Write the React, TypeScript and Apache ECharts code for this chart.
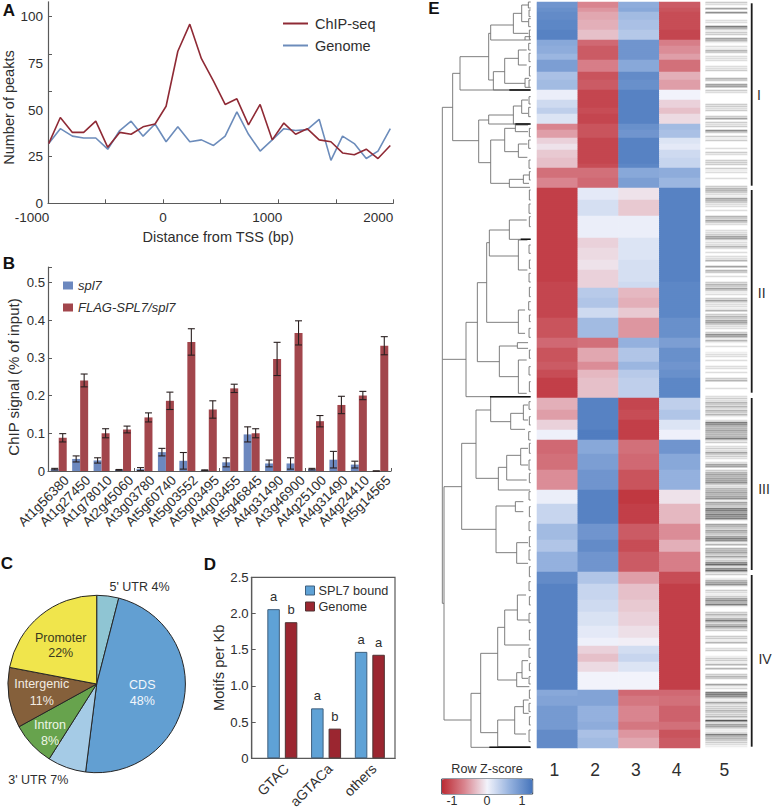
import React, { useEffect, useRef } from "react";
import * as echarts from "echarts";

const FONT = "Liberation Sans";
const INK = "#2e2e2e";
const AXIS = "#5a5a5a";

// Panel A
const tssPositions = [-994, -893, -788, -690, -585, -481, -377, -278, -174, -70, 26, 128, 232, 333, 438, 539, 641, 742, 843, 948, 1049, 1151, 1252, 1356, 1458, 1559, 1661, 1765, 1867, 1974];
const chipSeq = [32, 46, 38, 38, 44, 30, 38, 37, 41, 42.5, 52, 81.5, 96, 77.5, 65.5, 53, 56, 42, 53, 34, 43, 37, 40, 34, 33, 27, 26, 29, 24, 31];
const genomeA = [32, 40, 36, 35, 35, 29, 39, 44, 36, 42.5, 33, 41, 33, 34, 31, 36, 49, 37, 28, 34, 40, 39, 39.5, 45, 23, 36, 32, 24, 28, 40];

// Panel B
const geneNames = ["At1g56380", "At1g27450", "At1g78010", "At2g45060", "At3g03780", "At5g60740", "At5g03552", "At5g03495", "At4g03455", "At5g46845", "At4g31490", "At3g46900", "At4g25100", "At4g31490", "At4g24410", "At5g14565"];
const spl7Values = [0.005, 0.032, 0.028, 0.003, 0.005, 0.05, 0.027, 0.002, 0.023, 0.097, 0.02, 0.02, 0.005, 0.03, 0.017, 0];
const flagValues = [0.088, 0.24, 0.1, 0.11, 0.142, 0.186, 0.342, 0.163, 0.219, 0.1, 0.297, 0.366, 0.132, 0.175, 0.2, 0.332];
const spl7Errors = [0.002, 0.008, 0.007, 0.001, 0.004, 0.01, 0.022, 0.001, 0.012, 0.02, 0.009, 0.015, 0.002, 0.022, 0.009, 0];
const flagErrors = [0.011, 0.017, 0.012, 0.009, 0.012, 0.023, 0.035, 0.023, 0.011, 0.012, 0.044, 0.032, 0.015, 0.023, 0.011, 0.024];

// Panel C
const pieNames = ["5' UTR", "CDS", "3' UTR", "Intron", "Intergenic", "Promoter"];
const pieValues = [4, 48, 7, 8, 11, 22];
const pieColors = ["#8fc5d3", "#629fd2", "#a5cbe6", "#67a34d", "#85603b", "#f0e54c"];
const pieLabelColors = [INK, "#f2f6fb", INK, "#eef6e6", "#f3ece2", "#3a3a20"];
const pieLabelSpots = [[139.5, 587], [142.3, 692.7], [38.3, 780], [50, 732.7], [41.7, 692.7], [60.7, 645]];
const pieLineHeights = [16, 16, 16, 16, 17.5, 15];

// Panel D
const motifNames = ["GTAC", "aGTACa", "others"];
const motifPositions = [0.7, 1.7, 2.7];
const boundValues = [2.06, 0.69, 1.47];
const genomeMotifs = [1.88, 0.41, 1.43];
const boundLetters = ["a", "a", "a"];
const genomeLetters = ["b", "b", "a"];

// Panel E heat map: [row count, column 1, column 2, column 3, column 4]
const heatRuns = [
  [3, 0.95, -0.65, 0.7, -0.95], [2, 1.0, -0.55, 0.75, -1.0], [4, 1.05, -0.45, 0.55, -1.05], [5, 1.1, -0.4, 0.5, -1.05], [5, 1.15, -0.3, 0.42, -1.1],
  [3, 0.75, -0.85, 0.95, -0.7], [4, 0.7, -0.95, 0.95, -0.6], [3, 0.6, -0.95, 0.95, -0.5], [6, 0.85, -0.7, 0.75, -0.8], [4, 0.5, -1.0, 1.05, -0.4], [5, 0.55, -0.95, 1.0, -0.5],
  [5, 0.05, -1.1, 1.15, 0.0], [4, 0.25, -1.1, 1.15, -0.2], [3, 0.35, -1.05, 1.15, -0.3], [5, 0.15, -1.1, 1.15, -0.15],
  [3, -0.65, -1.0, 1.0, 0.55], [4, -0.5, -1.0, 0.95, 0.5], [3, -0.2, -1.1, 1.15, 0.15], [3, -0.1, -1.1, 1.15, 0.1], [4, -0.25, -1.1, 1.15, 0.25], [3, -0.3, -1.1, 1.15, 0.3], [2, -0.3, -1.05, 1.1, 0.3],
  [5, -0.8, -0.8, 0.75, 0.7], [5, -0.65, -0.85, 0.85, 0.6],
  [6, -1.15, 0.1, -0.1, 1.15], [8, -1.15, 0.2, -0.25, 1.15], [11, -1.15, 0.05, 0.05, 1.15], [5, -1.15, -0.2, 0.15, 1.15], [6, -1.15, -0.15, 0.15, 1.15], [5, -1.15, -0.1, 0.2, 1.15],
  [6, -1.15, -0.2, 0.2, 1.15], [3, -1.1, -0.2, 0.25, 1.1], [5, -1.1, 0.4, -0.35, 1.1], [5, -1.1, 0.45, -0.4, 1.1], [5, -1.1, 0.25, -0.25, 1.1], [10, -1.0, 0.55, -0.55, 1.0],
  [5, -0.85, -0.8, 0.65, 0.85], [7, -1.0, -0.45, 0.45, 1.0], [4, -0.95, -0.6, 0.6, 0.95], [4, -1.05, -0.35, 0.4, 1.0], [10, -1.15, -0.3, 0.35, 1.1],
  [6, -0.4, 1.15, -1.1, 0.35], [5, -0.5, 1.15, -1.05, 0.45], [5, -0.2, 1.15, -1.15, 0.15], [5, 0.03, 1.2, -1.15, 0.03], [7, -0.85, 0.75, -0.8, 0.95], [8, -0.8, 0.85, -0.85, 0.75], [10, -0.6, 0.95, -1.0, 0.65], [7, 0.05, 1.15, -1.2, -0.1], [10, 0.3, 1.15, -1.15, -0.35], [8, 0.55, 0.95, -0.95, -0.6],
  [6, 0.45, 1.05, -1.05, -0.4], [10, 0.65, 0.95, -0.95, -0.7],
  [6, 1.05, 0.45, -0.5, -1.05], [8, 1.15, 0.3, -0.3, -1.15], [6, 1.15, 0.25, -0.25, -1.15], [7, 1.15, 0.17, -0.2, -1.15], [6, 1.15, 0.1, -0.12, -1.15], [4, 1.15, 0.03, -0.03, -1.15], [4, 1.15, -0.2, 0.22, -1.15], [4, 1.15, -0.3, 0.3, -1.15], [5, 1.15, -0.15, 0.15, -1.15], [9, 1.15, 0.0, 0.0, -1.15],
  [3, 0.75, 0.8, -0.85, -0.85], [5, 0.8, 0.8, -0.75, -0.8], [8, 0.9, 0.65, -0.65, -0.9], [4, 0.9, 0.7, -0.75, -0.8], [4, 1.05, 0.5, -0.55, -1.0], [5, 1.05, 0.55, -0.45, -0.95],
];
const heatColumns = ["1", "2", "3", "4"];
const stripeColumn = ["5"];

// Panel E column 5: grey level of each row
const stripeLevels =
  "0320506000" + "2207413305" + "4102143022" + "2002230004" + "3055032000" + "0033230035" + "0323063031" + "3000203200" + "3330312002" + "00034" +
  "4321543220" + "2004353200" + "2235512242" + "0202240050" + "4302003435" + "3120352221" + "4034355322" + "0365141020" + "0122020022" + "02003" +
  "4000200023" + "2434243410" + "2764454447" + "2302325332" + "0255034545" + "5632445456" + "1543775767" + "1054354357" + "6140445352" + "36826" +
  "8230145610" + "3213564710" + "0342473463" + "3003314002" + "3001331404" + "0034300512" + "0776215233" + "4334192552" + "127443321";

// Panel E dendrogram: [distance, upper position, lower position, upper child distance, lower child distance, emphasis]
const treeNodes = [
  [265, 1078, 1810, 265, 260, 0], [265, 322, 1078, 234, 194, 0], [234, 220, 422, 212, 156, 0], [212, 170, 270, 126, 2, 0], [126, 100, 240, 120, 112, 0], [120, 75, 120, 52, 17, 0], [52, 40, 100, 27, 7, 0], [27, 15, 65, 7, 7, 0], [17, 110, 120, 0, 0, 0], [112, 215, 270, 78, 2, 0], [78, 175, 250, 37, 17, 0], [37, 150, 195, 12, 12, 0], [17, 235, 262, 5, 5, 0],
  [156, 360, 488, 126, 120, 0], [126, 345, 372, 52, 2, 0], [52, 318, 372, 27, 5, 0], [27, 300, 340, 8, 8, 0], [120, 420, 550, 78, 64, 0], [78, 385, 455, 46, 37, 0], [46, 375, 395, 8, 8, 0], [37, 432, 472, 10, 10, 0], [64, 538, 562, 22, 2, 0], [22, 525, 550, 5, 5, 0],
  [194, 967, 1190, 160, 2, 0], [160, 848, 1085, 132, 94, 0], [132, 728, 967, 124, 37, 0], [124, 690, 768, 64, 37, 0], [64, 660, 718, 12, 2, 0], [37, 720, 810, 10, 10, 0], [37, 930, 1000, 17, 17, 0], [94, 1038, 1130, 40, 37, 0], [40, 1028, 1045, 8, 8, 0], [37, 1080, 1180, 12, 12, 0],
  [260, 1460, 2160, 207, 179, 0], [207, 1330, 1588, 164, 104, 0], [164, 1230, 1435, 120, 97, 0], [120, 1190, 1265, 2, 60, 0], [60, 1240, 1288, 22, 17, 0], [22, 1215, 1260, 8, 8, 0], [97, 1402, 1470, 72, 2, 0], [72, 1366, 1440, 30, 12, 0], [30, 1345, 1395, 8, 8, 0], [104, 1518, 1658, 46, 42, 0], [46, 1505, 1535, 22, 22, 0], [42, 1628, 1690, 8, 8, 0],
  [179, 2080, 2242, 150, 2, 0], [150, 1960, 2198, 99, 99, 0], [99, 1882, 2040, 78, 42, 0], [78, 1830, 1935, 40, 4, 0], [40, 1785, 1860, 14, 6, 0], [42, 2018, 2060, 26, 4, 0], [26, 1982, 2035, 8, 8, 0], [99, 2160, 2240, 48, 2, 0], [48, 2120, 2202, 22, 14, 0], [22, 2100, 2140, 6, 6, 0],
  [64, 270, 270, 0, 0, 1], [46, 372, 372, 0, 0, 1], [30, 718, 718, 0, 0, 1], [122, 1190, 1190, 0, 0, 1], [124, 2242, 2242, 0, 0, 1],
];
const treeTwigs = [
  [7, 6, 24], [5, 30, 50], [6, 56, 80], [4, 90, 118], [6, 130, 150], [5, 160, 185], [4, 200, 228], [5, 240, 262], [5, 290, 312], [6, 322, 350], [4, 385, 410], [6, 420, 445], [5, 480, 505], [4, 515, 540], [4, 570, 600], [5, 612, 640], [4, 650, 680], [5, 735, 760], [4, 780, 805], [5, 820, 846], [4, 862, 890], [6, 905, 930], [4, 945, 965], [5, 985, 1012], [4, 1050, 1075], [5, 1100, 1125], [4, 1145, 1175],
  [5, 1205, 1228], [4, 1250, 1275], [6, 1295, 1320], [4, 1330, 1360], [5, 1380, 1410], [4, 1420, 1448], [5, 1475, 1500], [4, 1520, 1550], [5, 1565, 1592], [4, 1610, 1640], [5, 1650, 1680], [4, 1700, 1730], [5, 1745, 1772], [4, 1790, 1815], [5, 1840, 1868], [4, 1890, 1920], [5, 1945, 1972], [4, 1990, 2012], [5, 2030, 2052], [4, 2070, 2095], [5, 2110, 2135], [4, 2150, 2175], [5, 2190, 2225],
];

// Colour scale
const zTicks = ["-1", "0", "1"];

const PIE_OUTER = new Set([0, 2]);

function errorBarRenderer(offset: number) {
  return (_p: any, api: any) => {
    const i = api.value(0), v = api.value(1), e = api.value(2);
    const c = api.coord([i, v]);
    const x = c[0] + offset;
    const top = api.coord([i, v + e])[1];
    const bot = api.coord([i, Math.max(0, v - e)])[1];
    const st = { stroke: "#2a2020", lineWidth: 1.1 };
    return {
      type: "group",
      children: [
        { type: "line", shape: { x1: x, y1: top, x2: x, y2: bot }, style: st },
        { type: "line", shape: { x1: x - 3.5, y1: top, x2: x + 3.5, y2: top }, style: st },
        { type: "line", shape: { x1: x - 3.5, y1: bot, x2: x + 3.5, y2: bot }, style: st },
      ],
    };
  };
}

function treeRenderer(_p: any, api: any) {
  const d = api.value(0), y1 = api.value(1), y2 = api.value(2), d1 = api.value(3), d2 = api.value(4), strong = api.value(5);
  const pts = [api.coord([d1, y1]), api.coord([d, y1]), api.coord([d, y2]), api.coord([d2, y2])];
  return {
    type: "polyline",
    shape: { points: pts },
    style: { fill: null, stroke: strong ? "#111" : "#707070", lineWidth: strong ? 1.5 : 0.9 },
  };
}

// slanted axis labels, anchored at their last letter below the axis position
function slantedLabels(names: string[], fontSize: number, dx: number, dy: number) {
  return (p: any, api: any) => {
    const c = api.coord([api.value(0), 0]);
    return {
      type: "text", x: c[0] + dx, y: c[1] + dy, rotation: Math.PI / 4,
      style: { text: names[p.dataIndex], fontSize, fontFamily: FONT, fill: INK, textAlign: "right", textVerticalAlign: "middle" },
    };
  };
}

function txt(x: number, y: number, text: string, fontSize: number, extra: any = {}) {
  return {
    type: "text", x, y,
    style: { text, fontSize, fontFamily: FONT, fill: INK, textAlign: "center", textVerticalAlign: "middle", ...extra },
  };
}
function vline(x: number, y1: number, y2: number) {
  return { type: "line", shape: { x1: x, y1, x2: x, y2 }, style: { stroke: "#1c1c1c", lineWidth: 1.8 } };
}

export default function App() {
  const ref = useRef<HTMLDivElement>(null);
  useEffect(() => {
    const chart = echarts.init(ref.current!, null, { renderer: "svg" });
    const axisLine = { show: true, onZero: false, lineStyle: { color: AXIS, width: 1.2 } };
    const tickInside = { show: true, inside: true, length: 4, lineStyle: { color: AXIS, width: 1 } };
    const heatData: number[][] = [];
    let row = 0;
    heatRuns.forEach((run) => {
      for (let k = 0; k < run[0]; k++) {
        for (let c = 0; c < 4; c++) heatData.push([c, row, run[c + 1]]);
        row++;
      }
    });
    const heatRows = Array.from({ length: row }, (_, i) => String(i));
    // each grey level fills one pixel row fully and fades on the next, as the stripes are thin
    const stripeData: number[][] = [];
    stripeLevels.split("").forEach((s, i) => {
      const lvl = Number(s);
      stripeData.push([0, 2 * i, lvl]);
      stripeData.push([0, 2 * i + 1, lvl >= 4 ? lvl * 0.6 : lvl * 0.25]);
    });
    const stripeRows = stripeData.map((_, i) => String(i));

    const series: any[] = [
      { name: "ChIP-seq", type: "line", xAxisIndex: 0, yAxisIndex: 0, showSymbol: false, data: tssPositions.map((x, i) => [x, chipSeq[i]]), lineStyle: { color: "#8f2a35", width: 1.6 }, itemStyle: { color: "#8f2a35" }, z: 3 },
      { name: "Genome", type: "line", xAxisIndex: 0, yAxisIndex: 0, showSymbol: false, data: tssPositions.map((x, i) => [x, genomeA[i]]), lineStyle: { color: "#6c8cbb", width: 1.6 }, itemStyle: { color: "#6c8cbb" }, z: 2 },
      { name: "spl7", type: "bar", xAxisIndex: 1, yAxisIndex: 1, data: spl7Values, barWidth: 8, barGap: "0%", itemStyle: { color: "#6c88bf" } },
      { name: "FLAG-SPL7/spl7", type: "bar", xAxisIndex: 1, yAxisIndex: 1, data: flagValues, barWidth: 8, barGap: "0%", itemStyle: { color: "#a2464c" } },
      { type: "custom", xAxisIndex: 1, yAxisIndex: 1, data: spl7Values.map((v, i) => [i, v, spl7Errors[i]]), renderItem: errorBarRenderer(-4), encode: { x: 0, y: 1 }, z: 5, silent: true },
      { type: "custom", xAxisIndex: 1, yAxisIndex: 1, data: flagValues.map((v, i) => [i, v, flagErrors[i]]), renderItem: errorBarRenderer(4), encode: { x: 0, y: 1 }, z: 5, silent: true },
      {
        type: "pie", center: [96.7, 684], radius: [0, 88.7], startAngle: 90, clockwise: true, avoidLabelOverlap: false, silent: true,
        data: pieNames.map((name, i) => ({
          name, value: pieValues[i],
          itemStyle: { color: pieColors[i] },
          label: { color: pieLabelColors[i], lineHeight: pieLineHeights[i] },
        })),
        itemStyle: { borderColor: "#262626", borderWidth: 1 },
        label: {
          show: true, position: "inside", fontSize: 12.5, fontFamily: FONT,
          formatter: (p: any) => (PIE_OUTER.has(p.dataIndex) ? `${p.name} ${p.value}%` : `${p.name}\n${p.value}%`),
        },
        labelLine: { show: false },
        labelLayout: (p: any) => ({ x: pieLabelSpots[p.dataIndex][0], y: pieLabelSpots[p.dataIndex][1], align: "center", verticalAlign: "middle" }),
      },
      {
        name: "SPL7 bound", type: "bar", xAxisIndex: 2, yAxisIndex: 2, barWidth: 12.5, barGap: "40%",
        data: motifPositions.map((x, i) => [x, boundValues[i]]),
        itemStyle: { color: "#5fa2d6", borderColor: "#3f5f7d", borderWidth: 1 },
        label: { show: true, position: "top", distance: 6, fontSize: 13, fontFamily: FONT, color: INK, formatter: (p: any) => boundLetters[p.dataIndex] },
      },
      {
        name: "Genome bars", type: "bar", xAxisIndex: 2, yAxisIndex: 2, barWidth: 12.5, barGap: "40%",
        data: motifPositions.map((x, i) => [x, genomeMotifs[i]]),
        itemStyle: { color: "#9b2630", borderColor: "#4f3333", borderWidth: 1 },
        label: { show: true, position: "top", distance: 6, fontSize: 13, fontFamily: FONT, color: INK, formatter: (p: any) => genomeLetters[p.dataIndex] },
      },
      { type: "heatmap", xAxisIndex: 3, yAxisIndex: 3, data: heatData, progressive: 0, silent: true, emphasis: { disabled: true } },
      { type: "heatmap", xAxisIndex: 4, yAxisIndex: 4, data: stripeData, progressive: 0, silent: true, emphasis: { disabled: true } },
      { type: "custom", xAxisIndex: 5, yAxisIndex: 5, data: treeNodes, renderItem: treeRenderer, silent: true, clip: false },
      { type: "custom", xAxisIndex: 5, yAxisIndex: 5, data: treeTwigs.map((t) => [t[0], t[1], t[2], 0, 0, 0]), renderItem: treeRenderer, silent: true, clip: false },
      { type: "custom", xAxisIndex: 1, yAxisIndex: 1, data: geneNames.map((_, i) => [i, 0]), renderItem: slantedLabels(geneNames, 13.5, 8, 7), encode: { x: 0, y: 1 }, silent: true, clip: false },
      { type: "custom", xAxisIndex: 2, yAxisIndex: 2, data: motifPositions.map((x) => [x, 0]), renderItem: slantedLabels(motifNames, 14, 4, 8), encode: { x: 0, y: 1 }, silent: true, clip: false },
    ];

    chart.setOption({
      animation: false,
      textStyle: { fontFamily: FONT, color: INK },
      grid: [
        { left: 48, top: 1.8, width: 345.3, height: 201.5 },
        { left: 48, top: 267, width: 343, height: 204 },
        { left: 251.7, top: 577.3, width: 143.3, height: 181, show: true, borderColor: AXIS, borderWidth: 1.2, backgroundColor: "transparent" },
        { left: 537, top: 2, width: 163, height: 746 },
        { left: 705.7, top: 0, width: 41.3, height: 748 },
        { left: 440, top: 2, width: 90.7, height: 746 },
      ],
      xAxis: [
        {
          gridIndex: 0, type: "value", min: -1000, max: 2000, interval: 500, splitLine: { show: false },
          axisLine, axisTick: { ...tickInside, customValues: [-1000, -500, 0, 500, 1000, 1500, 2000] },
          axisLabel: {
            customValues: [-1000, 0, 1000, 2000], margin: 7, fontSize: 13.5, color: INK,
            formatter: (v: number) => (v === -1000 ? `{a|${v}}` : v === 1000 ? `{c|${v}}` : v === 2000 ? `{d|${v}}` : `${v}`),
            rich: {
              a: { fontSize: 13.5, padding: [0, 32, 0, 0] },
              c: { fontSize: 13.5, padding: [0, 22, 0, 0] },
              d: { fontSize: 13.5, padding: [0, 30, 0, 0] },
            },
          },
          name: "Distance from TSS (bp)", nameLocation: "middle", nameGap: 26, nameTextStyle: { fontSize: 14.5, color: INK, padding: [0, 5, 0, 0] },
        },
        {
          gridIndex: 1, type: "category", data: geneNames, axisLine, axisTick: { show: true, inside: true, length: 3, lineStyle: { color: AXIS } },
          axisLabel: { show: false },
        },
        {
          gridIndex: 2, type: "value", min: 0, max: 3.275, splitLine: { show: false }, axisLine, axisTick: { show: false },
          axisLabel: { show: false },
        },
        { gridIndex: 3, type: "category", data: heatColumns, axisLine: { show: false }, axisTick: { show: false }, axisLabel: { fontSize: 17.5, color: INK, margin: 13, padding: [0, 6, 0, 0] } },
        { gridIndex: 4, type: "category", data: stripeColumn, axisLine: { show: false }, axisTick: { show: false }, axisLabel: { fontSize: 17.5, color: INK, margin: 13, padding: [0, 4, 0, 0] } },
        { gridIndex: 5, type: "value", min: 0, max: 272, inverse: true, show: false, splitLine: { show: false } },
      ],
      yAxis: [
        {
          gridIndex: 0, type: "value", min: 0, max: 108, interval: 25, splitLine: { show: false }, axisLine,
          axisTick: { ...tickInside, customValues: [0, 25, 60, 80, 100] },
          axisLabel: { customValues: [0, 25, 50, 75, 100], margin: 5, fontSize: 13.5, color: INK },
          name: "Number of peakts", nameLocation: "middle", nameGap: 27, nameTextStyle: { fontSize: 14.5, color: INK, padding: [0, 10, 0, 0] },
        },
        {
          gridIndex: 1, type: "value", min: 0, max: 0.5406, splitLine: { show: false }, axisLine,
          axisTick: tickInside,
          axisLabel: { customValues: [0, 0.1, 0.2, 0.3, 0.4, 0.5], margin: 3, fontSize: 13.2, color: INK, formatter: (v: number) => (v === 0 ? "0" : v.toFixed(1)) },
          name: "ChIP signal (% of input)", nameLocation: "middle", nameGap: 27, nameTextStyle: { fontSize: 15, color: INK, padding: [0, 16, 0, 0] },
        },
        {
          gridIndex: 2, type: "value", min: 0, max: 2.5, interval: 0.5, splitLine: { show: false }, axisLine,
          axisTick: tickInside,
          axisLabel: { margin: 3, fontSize: 13.2, color: INK, formatter: (v: number) => (v === 0 ? "0" : v.toFixed(1)) },
          name: "Motifs per Kb", nameLocation: "middle", nameGap: 25, nameTextStyle: { fontSize: 14.7, color: INK },
        },
        { gridIndex: 3, type: "category", data: heatRows, inverse: true, show: false },
        { gridIndex: 4, type: "category", data: stripeRows, inverse: true, show: false },
        { gridIndex: 5, type: "value", min: 6, max: 2244, inverse: true, show: false, splitLine: { show: false } },
      ],
      legend: [
        {
          data: ["ChIP-seq", "Genome"], left: 283, top: 16, orient: "vertical", icon: "rect", itemWidth: 25, itemHeight: 2, itemGap: 7, padding: 0, selectedMode: false,
          textStyle: { fontSize: 14.5, color: INK, fontFamily: FONT, padding: [0, 0, 0, 2] },
        },
        {
          data: ["spl7", "FLAG-SPL7/spl7"], left: 63, top: 279, orient: "vertical", icon: "rect", itemWidth: 10, itemHeight: 8, itemGap: 9, padding: 0, selectedMode: false,
          textStyle: { fontSize: 13, fontStyle: "italic", color: INK, fontFamily: FONT },
        },
        {
          data: ["SPL7 bound", "Genome bars"], left: 305, top: 584, orient: "vertical", icon: "rect", itemWidth: 9, itemHeight: 9, itemGap: 3, itemStyle: { borderWidth: 1 }, padding: 0, selectedMode: false,
          textStyle: { fontSize: 12.7, color: INK, fontFamily: FONT, padding: [0, 0, 0, -1] },
          formatter: (n: string) => (n === "Genome bars" ? "Genome" : n),
        },
      ],
      visualMap: [
        {
          type: "continuous", seriesIndex: 9, min: -1.3, max: 1.3, orient: "horizontal", left: 441.7, top: 779, itemWidth: 15, itemHeight: 91, padding: 0, calculable: false, showLabel: false, text: [],
          inRange: { color: ["#bb2a33", "#d9858f", "#f2f3fb", "#94b1de", "#4574bb"] },
        },
        { type: "continuous", seriesIndex: 10, min: 0, max: 9, show: false, inRange: { color: ["#ffffff", "#444444"] } },
      ],
      series,
      graphic: [
        txt(9, 10, "A", 17, { fontWeight: "bold", fill: "#111" }),
        txt(9, 263, "B", 17, { fontWeight: "bold", fill: "#111" }),
        txt(7, 563, "C", 17, { fontWeight: "bold", fill: "#111" }),
        txt(210, 564, "D", 17, { fontWeight: "bold", fill: "#111" }),
        txt(434, 8, "E", 17, { fontWeight: "bold", fill: "#111" }),
        vline(751.7, 3.3, 185.7), vline(751.7, 190, 392.7), vline(751.7, 398, 570), vline(751.7, 575, 746.7),
        txt(759, 95, "I", 14), txt(761.7, 292.7, "II", 14), txt(764, 489, "III", 14), txt(765, 659, "IV", 14),
        txt(487, 769, "Row Z-score", 12.6),
        { type: "rect", shape: { x: 441.7, y: 779, width: 91, height: 15 }, style: { fill: "none", stroke: "#2b3a4d", lineWidth: 1 } },
        txt(452, 801, zTicks[0], 12.5), txt(487, 801, zTicks[1], 12.5), txt(522, 801, zTicks[2], 12.5),
      ],
    });
    return () => chart.dispose();
  }, []);
  return <div ref={ref} style={{ position: "absolute", left: 0, top: 0, width: 774, height: 809, background: "#fff" }} />;
}
